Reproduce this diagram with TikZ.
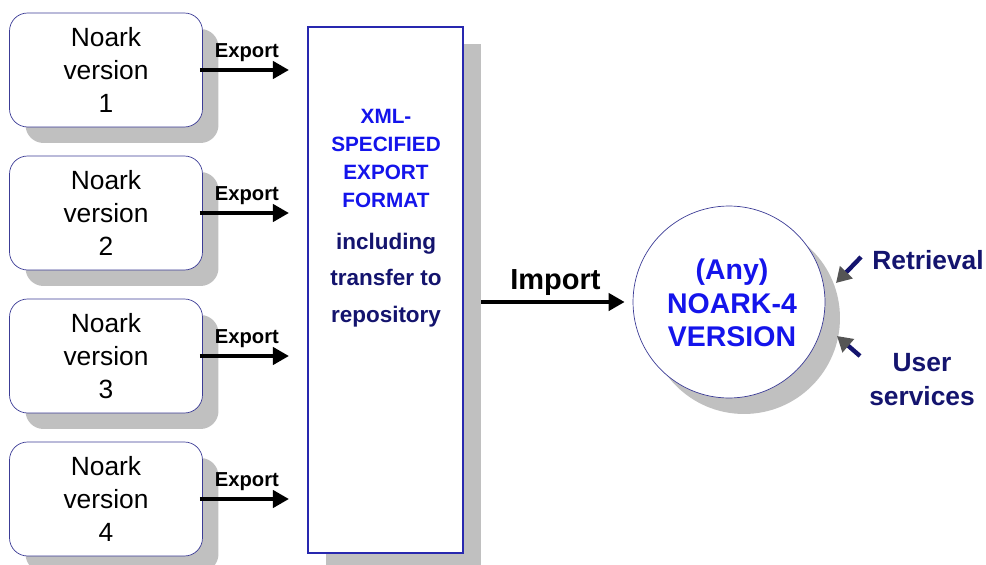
\documentclass[tikz,border=0pt]{standalone}
\usepackage{fontspec}
\setmainfont{Liberation Sans}
\usetikzlibrary{shadows,arrows.meta}

\definecolor{shadowgray}{RGB}{192,192,192}
\definecolor{boxnavy}{RGB}{60,60,150}
\definecolor{fmtblue}{RGB}{40,40,175}
\definecolor{textblue}{RGB}{20,20,235}
\definecolor{textnavy}{RGB}{20,20,110}
\definecolor{headgray}{RGB}{85,85,85}

\tikzset{
  version/.style={draw=boxnavy, thin, fill=white, rounded corners=0.36cm,
    minimum width=3.86cm, minimum height=2.28cm, align=center,
    font=\fontsize{15}{18.8}\selectfont,
    drop shadow={shadow xshift=0.32cm, shadow yshift=-0.32cm, fill=shadowgray, opacity=1}},
  format/.style={draw=fmtblue, line width=1.2pt, fill=white,
    minimum width=3.1cm, minimum height=10.52cm,
    drop shadow={shadow xshift=0.36cm, shadow yshift=-0.34cm, fill=shadowgray, opacity=1}},
  noark/.style={draw=boxnavy, thin, fill=white, circle, minimum size=3.84cm,
    drop shadow={shadow xshift=0.3cm, shadow yshift=-0.32cm, fill=shadowgray, opacity=1}},
  bigarrow/.style={line width=2.6pt, -{Triangle[length=0.32cm,width=0.34cm]}},
  sidearrow/.style={draw=textnavy, line width=2.5pt, -{Triangle[length=0.3cm,width=0.34cm,color=headgray]}},
  exportlabel/.style={font=\bfseries\fontsize{11.5}{14}\selectfont},
}

\begin{document}
\begin{tikzpicture}[x=0.02cm, y=-0.02cm]
  \useasboundingbox (0,0) rectangle (986,564);

  % Define nodes
  \node[format] (fmt) at (385.5,290) {};
  \node[version] (v1) at (106,70)  {Noark\\version\\1};
  \node[version] (v2) at (106,213) {Noark\\version\\2};
  \node[version] (v3) at (106,356) {Noark\\version\\3};
  \node[version] (v4) at (106,499) {Noark\\version\\4};
  \node[noark] (cir) at (729,302) {};

  \node[text=textblue, align=center, font=\bfseries\fontsize{11.8}{16}\selectfont] (xml) at (386,158.5)
    {XML-\\SPECIFIED\\EXPORT\\FORMAT};
  \node[text=textnavy, align=center, font=\bfseries\fontsize{12.8}{20.8}\selectfont] (incl) at (386,280)
    {including\\transfer to\\repository};
  \node[text=textblue, align=center, font=\bfseries\fontsize{16.2}{19}\selectfont] (anyv) at (732,303)
    {(Any)\\NOARK-4\\VERSION};
  \node[text=textnavy, font=\bfseries\fontsize{15}{17}\selectfont] (ret) at (928,260) {Retrieval};
  \node[text=textnavy, align=center, font=\bfseries\fontsize{15}{19.4}\selectfont] (usr) at (922,380)
    {User\\services};

  \coordinate (rettail) at (861,257);
  \coordinate (rettip) at (836,283);
  \coordinate (usrtail) at (860,356);
  \coordinate (usrtip) at (837,336);

  % Connect the nodes
  \foreach \v in {v1,v2,v3,v4}
    \draw[bigarrow, shorten <=-0.06cm, shorten >=0.36cm] (\v.east) -- (\v.east -| fmt.west)
      node[midway, above, xshift=-0.16cm, exportlabel] {Export};
  \draw[bigarrow, shorten <=0.34cm, shorten >=0.16cm] (cir.west -| fmt.east) -- (cir.west)
    node[midway, above, xshift=0.14cm, yshift=-1pt, font=\bfseries\fontsize{16.5}{20}\selectfont] {Import};
  \draw[sidearrow] (rettail) -- (rettip);
  \draw[sidearrow] (usrtail) -- (usrtip);

\end{tikzpicture}
\end{document}
